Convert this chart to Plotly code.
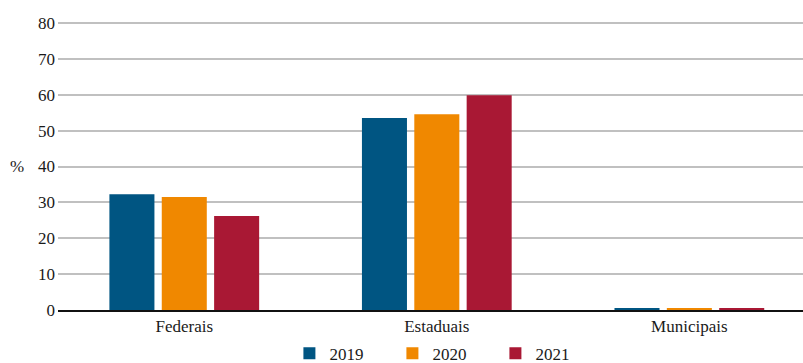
import plotly.graph_objects as go

categories = ["Federais", "Estaduais", "Municipais"]
years = ["2019", "2020", "2021"]
values_2019 = [32.3, 53.5, 0.5]
values_2020 = [31.5, 54.6, 0.5]
values_2021 = [26.2, 59.9, 0.5]
colors = ["#005582", "#F08800", "#A91834"]
y_ticks = [0, 10, 20, 30, 40, 50, 60, 70, 80]

series = [values_2019, values_2020, values_2021]

fig = go.Figure()
for name, vals, col in zip(years, series, colors):
    fig.add_trace(go.Bar(x=categories, y=vals, name=name, marker=dict(color=col, line=dict(width=0))))

font_family = "Liberation Serif"
tf = dict(family=font_family, size=17, color="#1a1a1a")
fig.update_layout(
    width=803, height=363,
    margin=dict(l=58, r=0, t=22, b=53, autoexpand=False),
    paper_bgcolor="white", plot_bgcolor="white",
    font=tf,
    barmode="group", bargap=0.378, bargroupgap=0.14,
    showlegend=True,
    legend=dict(orientation="h", x=0.518, xanchor="center", y=-0.152, yanchor="middle",
                font=tf, entrywidth=58, itemwidth=30, itemsizing="constant"),
    xaxis=dict(range=[-0.5, 2.45], showgrid=False, showline=True, linecolor="#111111",
               linewidth=2, layer="above traces", ticks="", tickfont=tf, automargin=False),
    yaxis=dict(range=[0, 80.3], tickvals=y_ticks, showgrid=True, gridcolor="#c0c0c0",
               gridwidth=1.5, zeroline=False, showline=False, ticks="", ticklabelstandoff=2,
               tickfont=tf, automargin=False),
    annotations=[dict(text="%", xref="paper", yref="paper", x=-0.055, y=0.5,
                      xanchor="center", yanchor="middle", showarrow=False,
                      font=tf)],
)

fig.write_html("out.html", config={"displayModeBar": False},
               post_script="document.body.style.margin='0';document.body.style.overflow='hidden';")
